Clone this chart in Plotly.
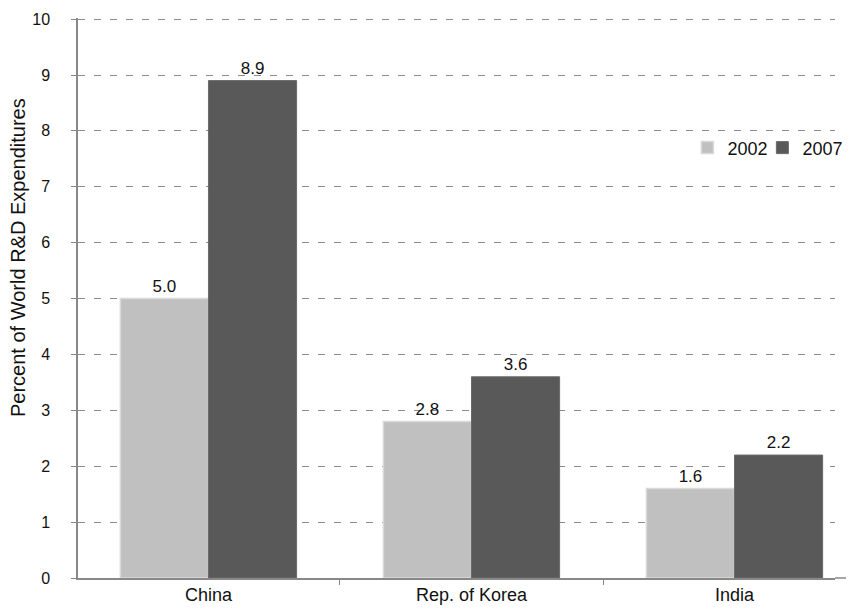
import plotly.graph_objects as go

categories = ["China", "Rep. of Korea", "India"]
values_2002 = [5.0, 2.8, 1.6]
values_2007 = [8.9, 3.6, 2.2]
y_ticks = list(range(0, 11))
y_title = "Percent of World R&D Expenditures"

font_family = "Liberation Sans, Arial, Helvetica, sans-serif"

fig = go.Figure()
fig.add_trace(go.Bar(
    x=categories, y=values_2002, name="2002",
    marker=dict(color="#C0C0C0", line=dict(color="#D9D9D9", width=1.5)),
    text=[f"{v:.1f}" for v in values_2002], textposition="outside",
    textfont=dict(size=17, color="#111111"), cliponaxis=False,
))
fig.add_trace(go.Bar(
    x=categories, y=values_2007, name="2007",
    marker=dict(color="#595959", line=dict(color="#6a6a6a", width=1)),
    text=[f"{v:.1f}" for v in values_2007], textposition="outside",
    textfont=dict(size=17, color="#111111"), cliponaxis=False,
))
# invisible spacer entry so the last legend label is not clipped
fig.add_trace(go.Scatter(
    x=[None], y=[None], name=" ", mode="markers",
    marker=dict(color="rgba(0,0,0,0)", size=1), hoverinfo="skip",
))

fig.update_layout(
    width=846, height=606,
    margin=dict(l=70, r=19, t=10, b=36, autoexpand=False),
    paper_bgcolor="white", plot_bgcolor="white",
    font=dict(family=font_family, size=16, color="#111111"),
    barmode="group", bargap=0.33, bargroupgap=0.0,
    showlegend=True,
    legend=dict(orientation="h", x=0.805, y=0.768, xanchor="left", yanchor="middle",
                font=dict(size=18), itemwidth=30, tracegroupgap=0,
                entrywidth=30, entrywidthmode="pixels",
                bgcolor="rgba(0,0,0,0)"),
    xaxis=dict(
        range=[-0.496, 2.382],
        showline=True, linecolor="#888888", linewidth=1.5, automargin=False,
        ticks="outside", tickson="boundaries", ticklen=5, tickcolor="#888888",
        tickfont=dict(size=18), showgrid=False,
    ),
    yaxis=dict(
        range=[0, 10.02], tickvals=y_ticks, showline=True, linecolor="#888888", linewidth=1.5,
        ticks="outside", ticklen=5, tickcolor="#888888", automargin=False,
        showgrid=True, gridcolor="#8c8c8c", griddash="7px,9px", gridwidth=1.2,
        tickfont=dict(size=16), zeroline=False, ticklabelstandoff=18,
    ),
    annotations=[dict(
        text=y_title, textangle=-90, xref="paper", yref="paper",
        x=-60 / 757, y=(578 - 258) / 560, xanchor="center", yanchor="middle",
        showarrow=False, font=dict(size=20, color="#111111"),
    )],
    shapes=[dict(
        type="line", xref="paper", yref="paper", x0=1, x1=1 + 19 / 757, y0=0, y1=0,
        line=dict(color="#888888", width=1.5),
    )],
)

fig.write_html("out.html")
